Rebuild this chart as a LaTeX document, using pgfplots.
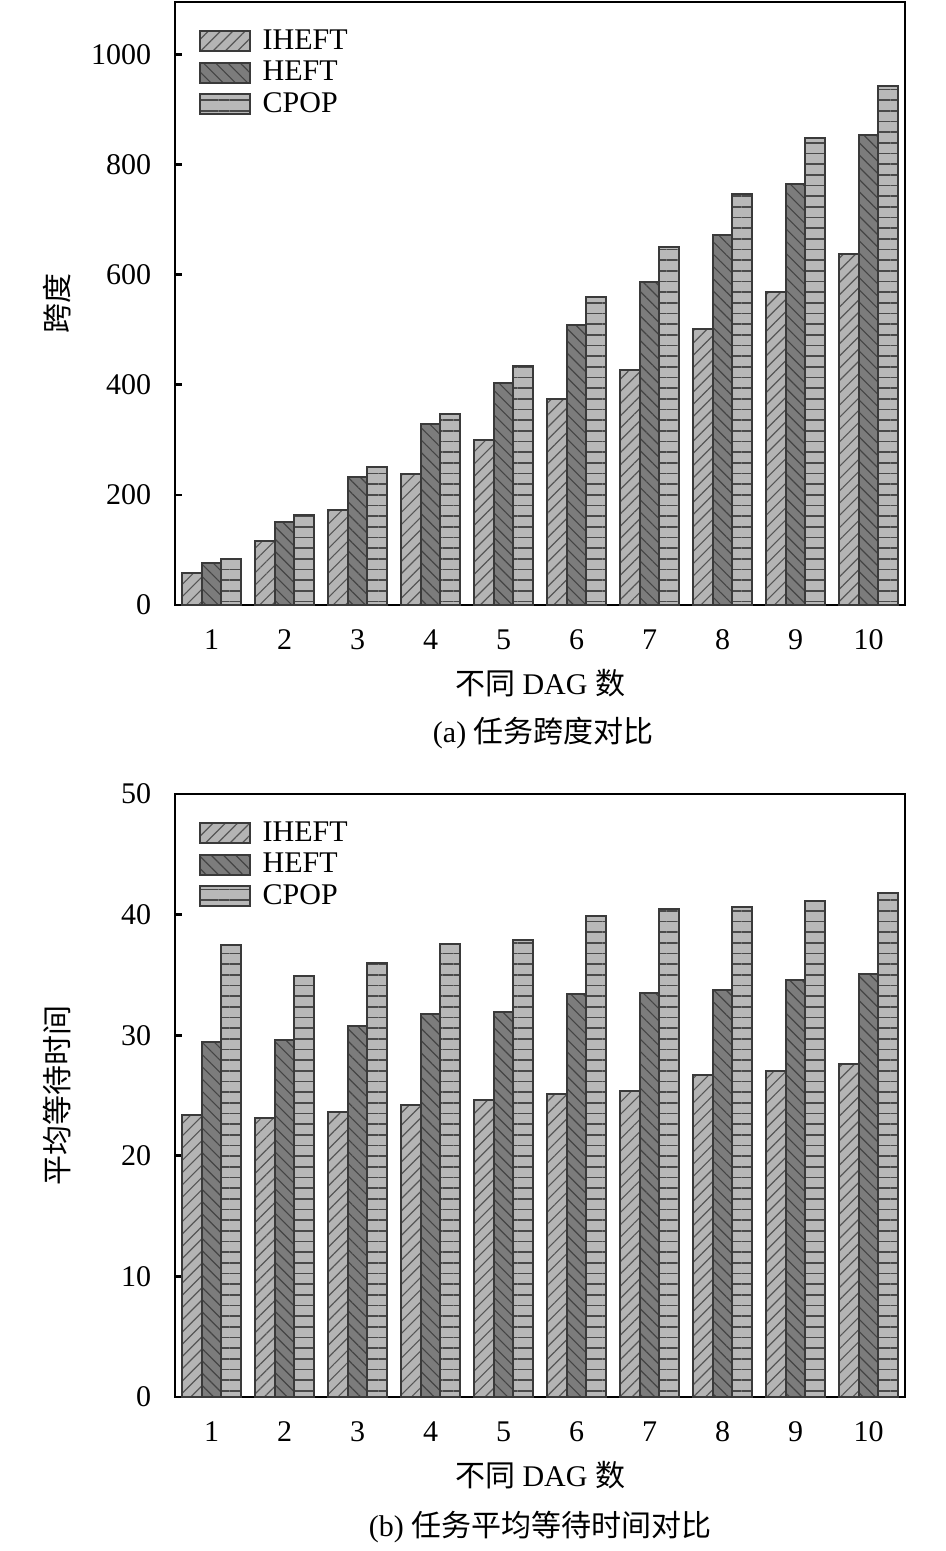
\documentclass[border=0pt]{standalone}
\usepackage{fontspec}
\setmainfont{Liberation Serif}
\newfontfamily\cjk{Noto Sans CJK SC}
\usepackage{pgfplots}
\pgfplotsset{compat=1.18}
\usetikzlibrary{patterns.meta}

\definecolor{fillA}{HTML}{B4B4B4}
\definecolor{fillB}{HTML}{7C7C7C}
\definecolor{fillC}{HTML}{B8B8B8}
\definecolor{hatchA}{HTML}{555555}
\definecolor{hatchB}{HTML}{444444}
\definecolor{hatchC}{HTML}{4A4A4A}
\definecolor{edge}{HTML}{3A3A3A}

\pgfplotsset{
  common/.style={
    scale only axis, width=219pt, height=180.9pt,
    xmin=0.5, xmax=10.5, xtick={1,...,10},
    ymin=0,
    ybar=0pt, bar width=5.94pt,
    axis line style={line width=0.8pt},
    tick align=inside, xtick pos=bottom, ytick pos=left,
    major tick length=2pt,
    tick style={line width=0.8pt, black},
    /pgf/number format/assume math mode=true,
    /pgf/number format/1000 sep={},
    ticklabel style={font=\fontsize{9}{10}\selectfont},
    xticklabel style={yshift=-3.9pt},
    yticklabel style={xshift=-3.6pt},
    legend style={draw=none, fill=none, at={(axis description cs:0.0315,0.96)},
      anchor=north west, inner sep=0pt, row sep=0.65pt, column sep=3.1pt,
      font=\fontsize{9}{10}\selectfont,
      nodes={inner sep=0.5pt, text height=6.3pt, text depth=1.5pt}},
    legend cell align=left,
    legend image code/.code={\draw[#1] (0pt,-3pt) rectangle (15pt,3pt);},
    every axis y label/.style={at={(axis description cs:-0.162,0.5)}, rotate=90, anchor=center, font=\fontsize{9}{10}\selectfont},
    every axis x label/.style={at={(axis description cs:0.5,-0.13)}, anchor=center, font=\fontsize{9}{10}\selectfont},
    xlabel={{\cjk 不同} DAG {\cjk 数}},
  },
  sA/.style={fill=fillA, draw=edge, line width=0.6pt,
    postaction={pattern={Lines[angle=45,distance=2.6pt,line width=0.35pt]}, pattern color=hatchA}},
  sB/.style={fill=fillB, draw=edge, line width=0.6pt,
    postaction={pattern={Lines[angle=-45,distance=2.6pt,line width=0.35pt]}, pattern color=hatchB}},
  sC/.style={fill=fillC, draw=edge, line width=0.6pt,
    postaction={pattern={Lines[angle=0,distance=3.2pt,line width=0.5pt]}, pattern color=hatchC}},
}

\begin{document}
\begin{tikzpicture}
\begin{axis}[common, at={(52.5pt,-181.5pt)}, anchor=south west,
  ymax=1095, ytick={0,200,400,600,800,1000},
  ylabel={\cjk 跨度}]
\addplot[sA] coordinates {(1,59) (2,117) (3,173) (4,238) (5,300) (6,374) (7,426) (8,502) (9,568) (10,637)};
\addplot[sB] coordinates {(1,76) (2,150) (3,233) (4,328) (5,404) (6,509) (7,586) (8,671) (9,765) (10,853)};
\addplot[sC] coordinates {(1,84) (2,164) (3,251) (4,347) (5,434) (6,560) (7,651) (8,747) (9,848) (10,942)};
\legend{IHEFT,HEFT,CPOP}
\end{axis}
\begin{axis}[common, at={(52.5pt,-419.1pt)}, anchor=south west,
  ymax=50, ytick={0,10,20,30,40,50},
  ylabel={\cjk 平均等待时间}]
\addplot[sA] coordinates {(1,23.4) (2,23.1) (3,23.6) (4,24.2) (5,24.6) (6,25.1) (7,25.4) (8,26.7) (9,27.0) (10,27.6)};
\addplot[sB] coordinates {(1,29.4) (2,29.6) (3,30.8) (4,31.8) (5,31.9) (6,33.4) (7,33.5) (8,33.75) (9,34.6) (10,35.1)};
\addplot[sC] coordinates {(1,37.5) (2,34.9) (3,36.0) (4,37.6) (5,37.9) (6,39.9) (7,40.5) (8,40.6) (9,41.1) (10,41.8)};
\legend{IHEFT,HEFT,CPOP}
\end{axis}
\node[font=\fontsize{9}{10}\selectfont] at (163pt,-219.9pt) {(a) {\cjk 任务跨度对比}};
\node[font=\fontsize{9}{10}\selectfont] at (162pt,-458.1pt) {(b) {\cjk 任务平均等待时间对比}};
\pgfresetboundingbox
\useasboundingbox (0pt,0pt) rectangle (283.5pt,-465.3pt);
\end{tikzpicture}
\end{document}
